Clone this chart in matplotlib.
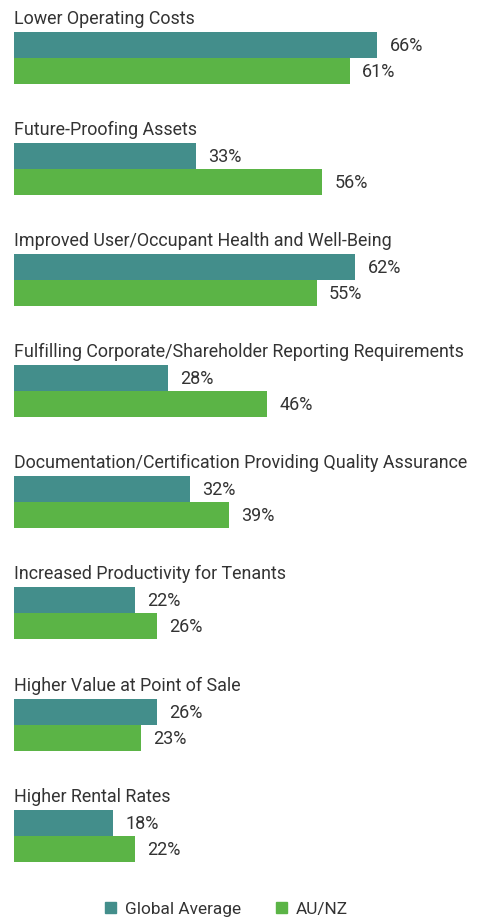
import numpy as np
import matplotlib.pyplot as plt
from matplotlib.patches import Patch

categories = [
    "Lower Operating Costs",
    "Future-Proofing Assets",
    "Improved User/Occupant Health and Well-Being",
    "Fulfilling Corporate/Shareholder Reporting Requirements",
    "Documentation/Certification Providing Quality Assurance",
    "Increased Productivity for Tenants",
    "Higher Value at Point of Sale",
    "Higher Rental Rates",
]
global_avg = [66, 33, 62, 28, 32, 22, 26, 18]
au_nz = [61, 56, 55, 46, 39, 26, 23, 22]

teal = "#438E8B"
green = "#5BB446"
txt = "#333333"

plt.rcParams['font.family'] = ['Roboto', 'DejaVu Sans']

fig = plt.figure(figsize=(4.94, 9.2), dpi=100)
ax = fig.add_axes([0, 0, 1, 1])

# pixel-ish layout: group spacing ~111px, bar height ~26px, 5.5px per %
px_per_pct = 5.5
gap = 111.1
h = 26 / gap
y = np.arange(len(categories))

ax.barh(y, global_avg, height=h, color=teal, align='center')
ax.barh(y + h, au_nz, height=h, color=green, align='center')

for i, cat in enumerate(categories):
    ax.text(0, i - h / 2 - 9 / gap, cat, fontsize=12.9, color=txt,
            va='baseline', ha='left')
    ax.annotate(f"{global_avg[i]}%", (global_avg[i], i), xytext=(9, 0),
                textcoords='offset points', va='center', ha='left',
                fontsize=13, color=txt)
    ax.annotate(f"{au_nz[i]}%", (au_nz[i], i + h), xytext=(9, 0),
                textcoords='offset points', va='center', ha='left',
                fontsize=13, color=txt)

ax.set_xlim(-14 / px_per_pct, (494 - 14) / px_per_pct)
ax.set_ylim((920 - 46) / gap, -46 / gap)
ax.axis('off')

handles = [Patch(color=teal, label="Global Average"),
           Patch(color=green, label="AU/NZ")]
fig.legend(handles=handles, loc='center', bbox_to_anchor=(0.458, 10 / 920),
           ncol=2, frameon=False, fontsize=12.4, handlelength=0.65,
           handleheight=0.65, handletextpad=0.5, columnspacing=2.0,
           labelcolor=txt)

fig.savefig("out.png", dpi=100)
